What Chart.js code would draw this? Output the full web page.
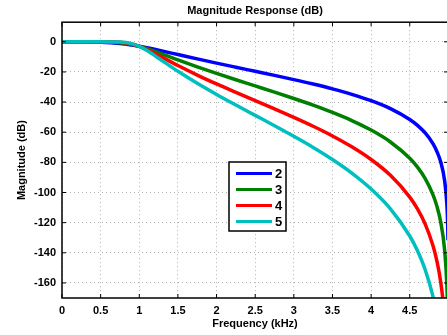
<!DOCTYPE html>
<html>
<head>
<meta charset="utf-8">
<script src="https://cdn.jsdelivr.net/npm/chart.js@4"></script>
<style>
html, body { margin: 0; padding: 0; overflow: hidden; background: #fff; }
#wrap { width: 447px; height: 335px; overflow: hidden; }
</style>
</head>
<body>
<div id="wrap"><canvas id="magnitude" width="450" height="335"></canvas></div>
<script>
// frequency (kHz) and magnitude (dB), one list per filter order
var freqKHz = [0, 0.25, 0.5, 0.75, 0.9, 1, 1.1, 1.25, 1.5, 1.75, 2, 2.25, 2.5, 2.75, 3, 3.25, 3.5, 3.75, 4, 4.25, 4.5, 4.6, 4.7, 4.8, 4.85, 4.9, 4.95, 4.98, 4.99, 4.995];
var order2 = [0, -0.01, -0.24, -1.13, -2.15, -3.01, -3.99, -5.61, -8.48, -11.35, -14.15, -16.88, -19.58, -22.29, -25.09, -28.04, -31.25, -34.84, -39.06, -44.31, -51.54, -55.47, -60.51, -67.58, -72.59, -79.64, -91.68, -107.6, -119.6, -131.7];
var order3 = [0, 0, -0.06, -0.66, -1.79, -3.01, -4.55, -7.24, -12.01, -16.63, -21.0, -25.2, -29.3, -33.4, -37.62, -42.05, -46.86, -52.26, -58.59, -66.47, -77.31, -83.2, -90.76, -101.37, -108.88, -119.46, -137.52, -161.4, -179.5, -197.5];
var order4 = [0, 0, -0.01, -0.37, -1.49, -3.01, -5.15, -9.02, -15.75, -22.07, -27.97, -33.58, -39.06, -44.54, -50.16, -56.07, -62.48, -69.68, -78.12, -88.63, -103.08, -110.94, -121.01, -135.16, -145.17, -159.27, -183.36, -215.2, -239.3, -263.4];
var order5 = [0, 0, 0, -0.21, -1.23, -3.01, -5.79, -10.91, -19.59, -27.56, -34.95, -41.97, -48.82, -55.67, -62.7, -70.09, -78.11, -87.1, -97.64, -110.79, -128.85, -138.67, -151.27, -168.95, -181.47, -199.09, -229.2, -269.0, -299.1, -329.2];

var seriesNames = ["2", "3", "4", "5"];
var seriesValues = [order2, order3, order4, order5];
var seriesColors = ["#0000ff", "#008000", "#ff0000", "#00bfbf"];

var xTicks = [0, 0.5, 1, 1.5, 2, 2.5, 3, 3.5, 4, 4.5];
var yTicks = [0, -20, -40, -60, -80, -100, -120, -140, -160];

var boldFont = { family: "'Liberation Sans', Arial, sans-serif", size: 11, weight: "bold" };

function toPoints(values){
    return values.map(function(v, i){ return { x: freqKHz[i], y: v }; });
}

var datasets = seriesNames.map(function(name, i){
    return {
        label: name,
        data: toPoints(seriesValues[i]),
        borderColor: seriesColors[i],
        backgroundColor: seriesColors[i],
        borderWidth: 3.5,
        pointRadius: 0,
        cubicInterpolationMode: 'monotone',
        clip: 0,
        order: seriesNames.length - i
    };
});

// box round the plot and the little inward ticks
var framePlugin = {
    id: 'frame',
    afterDatasetsDraw: function(chart){
        var a = chart.chartArea, ctx = chart.ctx;
        var sx = chart.scales.x, sy = chart.scales.y;
        ctx.save();
        ctx.strokeStyle = '#000';
        ctx.lineWidth = 1.5;
        ctx.strokeRect(a.left, a.top, a.right - a.left, a.bottom - a.top);
        ctx.lineWidth = 1;
        ctx.beginPath();
        sx.ticks.forEach(function(t){
            var px = sx.getPixelForValue(t.value);
            ctx.moveTo(px, a.bottom); ctx.lineTo(px, a.bottom - 4);
            ctx.moveTo(px, a.top); ctx.lineTo(px, a.top + 4);
        });
        sy.ticks.forEach(function(t){
            var py = sy.getPixelForValue(t.value);
            ctx.moveTo(a.left, py); ctx.lineTo(a.left + 4, py);
            ctx.moveTo(a.right, py); ctx.lineTo(a.right - 4, py);
        });
        ctx.stroke();
        ctx.restore();
    }
};

// legend box sitting inside the plot
var legendPlugin = {
    id: 'innerLegend',
    afterDraw: function(chart){
        var ctx = chart.ctx;
        var left = 229, top = 162, w = 57, h = 69;
        ctx.save();
        ctx.fillStyle = '#fff';
        ctx.fillRect(left, top, w, h);
        ctx.strokeStyle = '#000';
        ctx.lineWidth = 1.5;
        ctx.strokeRect(left, top, w, h);
        chart.data.datasets.forEach(function(ds, i){
            var y = top + 11.5 + i * 16;
            ctx.strokeStyle = ds.borderColor;
            ctx.lineWidth = 3;
            ctx.beginPath();
            ctx.moveTo(left + 7, y);
            ctx.lineTo(left + 43, y);
            ctx.stroke();
            ctx.fillStyle = '#000';
            ctx.font = "bold 13px 'Liberation Sans', Arial, sans-serif";
            ctx.textBaseline = 'middle';
            ctx.fillText(ds.label, left + 46, y + 0.5);
        });
        ctx.restore();
    }
};

var ctx = document.getElementById("magnitude");
new Chart(ctx, {
    type: 'line',
    data: { datasets: datasets },
    options: {
        responsive: false,
        animation: false,
        layout: { padding: { right: 2 } },
        plugins: {
            legend: { display: false },
            tooltip: { enabled: false },
            title: {
                display: true,
                text: 'Magnitude Response (dB)',
                fullSize: false,
                color: '#000',
                font: boldFont,
                padding: { top: 4, bottom: 5 }
            }
        },
        scales: {
            x: {
                type: 'linear',
                min: 0,
                max: 4.995,
                afterBuildTicks: function(scale){
                    scale.ticks = xTicks.map(function(v){ return { value: v }; });
                },
                afterFit: function(scale){ scale.height = 37; },
                ticks: {
                    color: '#000',
                    font: boldFont,
                    padding: 6,
                    maxRotation: 0,
                    autoSkip: false,
                    callback: function(v){ return String(v); }
                },
                grid: { color: '#b0b0b0', lineWidth: 1, drawTicks: false },
                border: { display: false, dash: [1, 3] },
                title: {
                    display: true,
                    text: 'Frequency (kHz)',
                    color: '#000',
                    font: boldFont,
                    padding: { top: 0, bottom: 4 }
                }
            },
            y: {
                type: 'linear',
                min: -170,
                max: 13,
                afterBuildTicks: function(scale){
                    scale.ticks = yTicks.map(function(v){ return { value: v }; });
                },
                afterFit: function(scale){ scale.width = 62; },
                ticks: {
                    color: '#000',
                    font: boldFont,
                    padding: 6,
                    autoSkip: false,
                    callback: function(v){ return String(v); }
                },
                grid: { color: '#b0b0b0', lineWidth: 1, drawTicks: false },
                border: { display: false, dash: [1, 3] },
                title: {
                    display: true,
                    text: 'Magnitude (dB)',
                    color: '#000',
                    font: boldFont,
                    padding: { top: 15, bottom: 0 }
                }
            }
        }
    },
    plugins: [framePlugin, legendPlugin]
});
</script>
</body>
</html>
